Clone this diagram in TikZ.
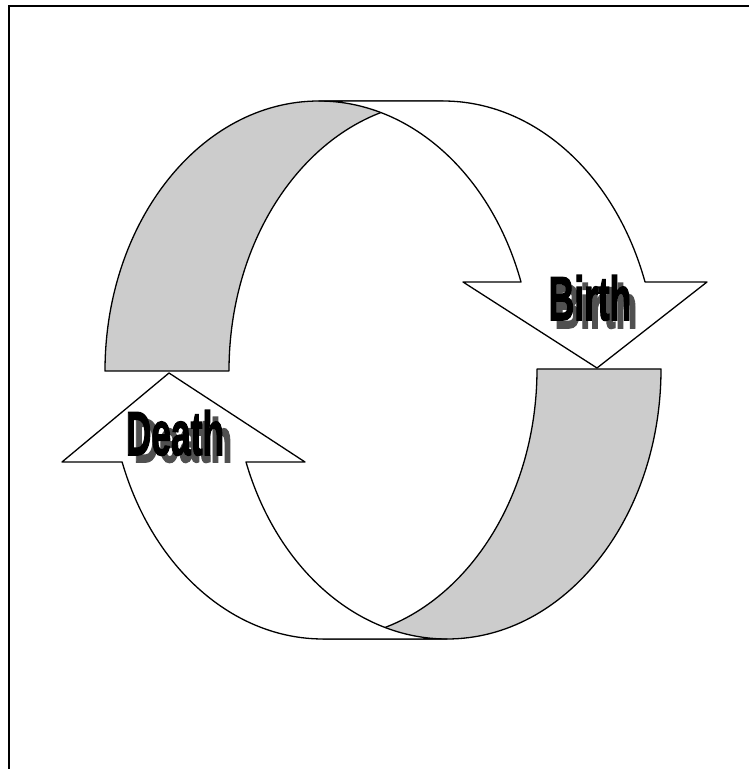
\documentclass[tikz,border=0pt]{standalone}
\usepackage{fontspec}
\setmainfont{Liberation Sans}
\newfontfamily\heavyfont[FakeBold=2.5]{Liberation Sans Bold}
\definecolor{facegray}{RGB}{204,204,204}
\definecolor{shadowgray}{RGB}{80,80,80}
\begin{document}
\begin{tikzpicture}[x=1pt,y=1pt,
  band/.style={draw=black,line width=1.3pt,line join=round},
  backface/.style={band,fill=facegray},
  frontface/.style={band,fill=white},
  lbl/.style={inner sep=0pt,anchor=base,xscale=0.57,font=\heavyfont\fontsize{62}{62}\selectfont},
  frame/.style={draw=black,line width=2pt}]
\useasboundingbox (0,0) rectangle (748,769);
% frame
\draw[frame] (9,-5) -- (9,763) -- (760,763);
% upper band: inside (gray) surface
\path[backface] (105,398) arc[start angle=180,end angle=90,x radius=214,y radius=270]
  -- (443,668) arc[start angle=90,end angle=180,x radius=214,y radius=270] -- cycle;
% lower band: inside (gray) surface
\path[backface] (661,400) arc[start angle=0,end angle=-90,x radius=214,y radius=270]
  -- (323,130) arc[start angle=-90,end angle=0,x radius=214,y radius=270] -- cycle;
% upper band: outside (white) surface with arrowhead
\path[frontface] (319,668) -- (443,668)
  arc[start angle=90,end angle=19.25,x radius=214,y radius=270]
  -- (707,487) -- (597,401) -- (463,487) -- (521,487)
  arc[start angle=19.25,end angle=90,x radius=214,y radius=270] -- cycle;
% lower band: outside (white) surface with arrowhead
\path[frontface] (323,130)
  arc[start angle=270,end angle=200.15,x radius=214,y radius=270]
  -- (62,307) -- (169,396) -- (305,307) -- (246,307)
  arc[start angle=200.15,end angle=270,x radius=214,y radius=270] -- cycle;
% labels with shadows
\node[lbl,text=shadowgray] (birthshadow) at (596,441) {Birth};
\node[lbl,text=black] (birth) at (590,449) {Birth};
\node[lbl,text=shadowgray] (deathshadow) at (183,307) {Death};
\node[lbl,text=black] (death) at (175,314) {Death};
\end{tikzpicture}
\end{document}
